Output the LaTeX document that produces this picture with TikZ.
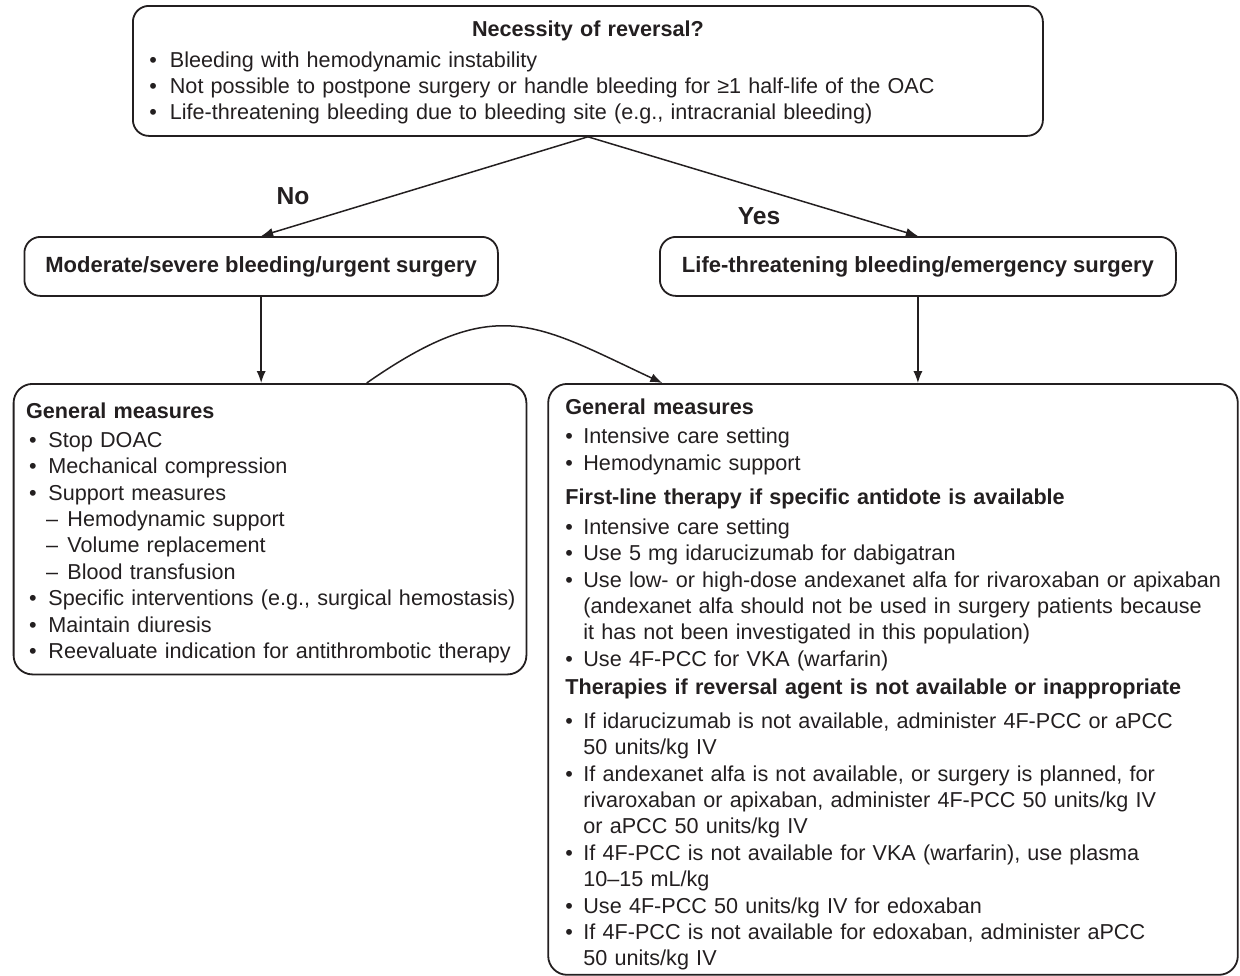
\documentclass[tikz,border=0pt]{standalone}
\usepackage{fontspec}
\setmainfont{Liberation Sans}
\usepackage{tikz}
\usetikzlibrary{arrows.meta, calc, positioning}
\definecolor{ink}{RGB}{35,31,32}

\newlength{\bulpre}
\newlength{\bulhang}
\newcommand{\bul}[1]{\par\noindent\hspace*{\bulpre}\makebox[\dimexpr\bulhang-\bulpre\relax][l]{\textbullet}\begin{tabular}[t]{@{}l@{}}#1\end{tabular}\par\prevdepth=\dp\strutbox}
\newcommand{\subbul}[1]{\par\noindent\hspace*{10pt}\makebox[10.75pt][l]{\textendash}\begin{tabular}[t]{@{}l@{}}#1\end{tabular}\par\prevdepth=\dp\strutbox}
\newcommand{\hdr}[1]{\par\noindent\strut\textbf{#1}}

\tikzset{
	box/.style={draw=ink, line width=0.9pt, rounded corners=8pt, text=ink, align=left, font=\fontsize{10.8}{13.2}\selectfont},
	bigbox/.style={box, rounded corners=9.5pt, anchor=north west},
	midbox/.style={box, anchor=north west, inner sep=0pt, minimum height=29.5pt, font=\fontsize{11}{12}\selectfont\bfseries},
	arr/.style={-{Latex[length=6pt,width=4.6pt]}, draw=ink, line width=0.75pt},
	lab/.style={anchor=base, text=ink, font=\fontsize{12.3}{14}\selectfont\bfseries}
}

\begin{document}
\begin{tikzpicture}[x=0.5pt, y=-0.5pt]

\useasboundingbox (0,0) rectangle (1240,975);

% question
\node[box, anchor=north west, text width=441pt, inner xsep=7pt, inner ysep=4.07pt] (top) at (132,5) {%
	\setlength{\bulpre}{1.25pt}\setlength{\bulhang}{11.5pt}%
	{\centering\noindent\rule{0pt}{11pt}\textbf{Necessity of reversal?}\par}\vspace{2.3pt}
	\bul{Bleeding with hemodynamic instability}
	\bul{Not possible to postpone surgery or handle bleeding for ≥1 half-life of the OAC}
	\bul{Life-threatening bleeding due to bleeding site (e.g., intracranial bleeding)}
};

% severity
\node[midbox, minimum width=236.75pt] (lmid) at (23.5,236) {Moderate/severe bleeding/urgent surgery};
\node[midbox, minimum width=258pt]    (rmid) at (659,236)  {Life-threatening bleeding/emergency surgery};

\draw[arr] (top.south) -- (lmid.north); % no
\draw[arr] (top.south) -- (rmid.north); % yes
\node[lab] (no)  at (293,204) {No};
\node[lab] (yes) at (759,224) {Yes};

% measures
\node[bigbox, text width=244pt, inner xsep=6.2pt, inner ysep=4pt] (lbox) at (12.7,383) {%
	\setlength{\bulpre}{1.6pt}\setlength{\bulhang}{11.25pt}%
	\hdr{\rule{0pt}{11pt}General measures}\par\vspace{1.3pt}
	\bul{Stop DOAC}
	\bul{Mechanical compression}
	\bul{Support measures}
	\subbul{Hemodynamic support}
	\subbul{Volume replacement}
	\subbul{Blood transfusion}
	\bul{Specific interventions (e.g., surgical hemostasis)}
	\bul{Maintain diuresis}
	\bul{Reevaluate indication for antithrombotic therapy}
};

\node[bigbox, text width=327.6pt, inner xsep=8.6pt, inner ysep=0.5pt] (rbox) at (547.3,383) {%
	\setlength{\bulpre}{0pt}\setlength{\bulhang}{9pt}%
	\hdr{\rule{0pt}{14pt}General measures}\par\vspace{1.3pt}
	\bul{Intensive care setting}
	\bul{Hemodynamic support}\vspace{3.8pt}
	\hdr{First-line therapy if specific antidote is available}\par\vspace{1.8pt}
	\bul{Intensive care setting}
	\bul{Use 5 mg idarucizumab for dabigatran}
	\bul{Use low- or high-dose andexanet alfa for rivaroxaban or apixaban\\(andexanet alfa should not be used in surgery patients because\\it has not been investigated in this population)}
	\bul{Use 4F-PCC for VKA (warfarin)}\vspace{0.8pt}
	\hdr{Therapies if reversal agent is not available or inappropriate}\par\vspace{3.8pt}
	\bul{If idarucizumab is not available, administer 4F-PCC or aPCC\\50 units/kg IV}
	\bul{If andexanet alfa is not available, or surgery is planned, for\\rivaroxaban or apixaban, administer 4F-PCC 50 units/kg IV\\or aPCC 50 units/kg IV}
	\bul{If 4F-PCC is not available for VKA (warfarin), use plasma\\10–15 mL/kg}
	\bul{Use 4F-PCC 50 units/kg IV for edoxaban}
	\bul{If 4F-PCC is not available for edoxaban, administer aPCC\\50 units/kg IV}
};

\foreach \m/\b in {lmid/lbox, rmid/rbox} {
	\draw[arr] (\m.south) -- (\m.south |- \b.north); % down arrow
}

\draw[arr] ($(lbox.north west)+(354,0)$) .. controls +(129,-90) and +(-128,-60) .. ($(rbox.north west)+(115,0)$); % bypass

\end{tikzpicture}
\end{document}
